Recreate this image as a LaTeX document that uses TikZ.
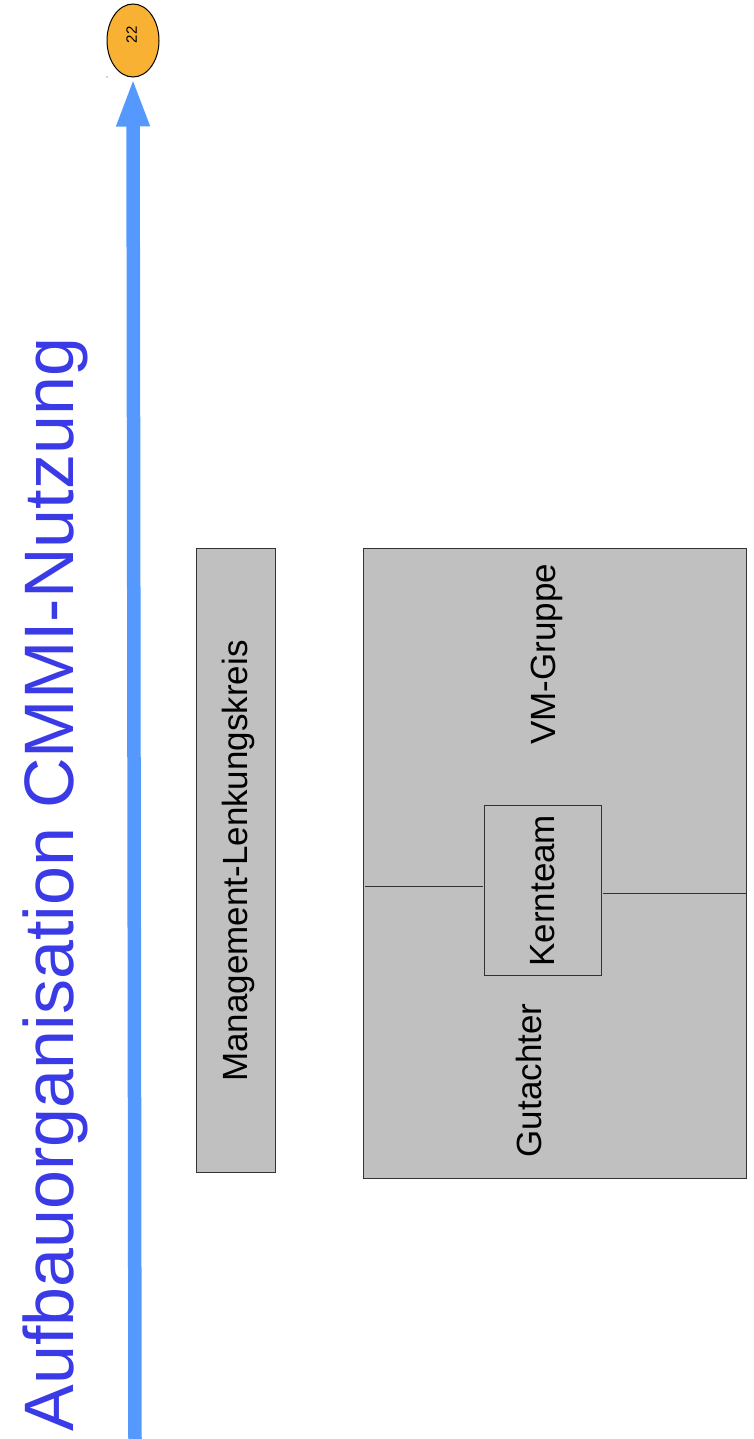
\documentclass[tikz,border=0pt]{standalone}
\usepackage{fontspec}
\setmainfont{Liberation Sans}
\usetikzlibrary{arrows.meta,shapes.geometric}
\definecolor{boxgray}{RGB}{192,192,192}
\definecolor{edgegray}{RGB}{51,51,51}
\definecolor{arrowblue}{RGB}{85,153,255}
\definecolor{titleblue}{RGB}{58,58,230}
\definecolor{badgeorange}{RGB}{248,177,51}
\begin{document}
\begin{tikzpicture}[x=0.5pt,y=-0.5pt,
  panel/.style={draw=edgegray, line width=0.5pt, fill=boxgray, inner sep=0pt, anchor=north west},
  vlabel/.style={rotate=90, anchor=base, inner sep=0pt, font=\fontsize{17.5}{21}\selectfont},
  divider/.style={draw=edgegray, line width=0.5pt}
]
\useasboundingbox (0,0) rectangle (754,1439);

% title
\node[rotate=90, anchor=base, inner sep=0pt, text=titleblue, font=\fontsize{35}{42}\selectfont] (title) at (73,884.5) {Aufbauorganisation CMMI-Nutzung};

% badge
\node[ellipse, draw=black, line width=0.5pt, fill=badgeorange, minimum width=26pt, minimum height=36.5pt, inner sep=0pt] (badge) at (133,40.5) {};
\node[rotate=90, inner sep=0pt, font=\fontsize{7.5}{9}\selectfont] (badgelabel) at (131.7,35) {22};
\fill[gray!70] (107,77) circle (0.8);

% arrow
\coordinate (arrowstart) at (135,1439);
\draw[arrowblue, line width=6.75pt, -{Triangle[width=15pt,length=24.5pt]}] (arrowstart) -- (badge.south);

% management box
\node[panel, minimum width=39.5pt, minimum height=312pt] (mgmt) at (196,548) {};
\node[vlabel] (mgmtlabel) at (247,861) {Management-Lenkungskreis};

% big box
\node[panel, minimum width=191.5pt, minimum height=315pt] (big) at (363,548) {};
\node[vlabel] (vmlabel) at (555,654.5) {VM-Gruppe};
\node[vlabel] (gutlabel) at (541,1080.5) {Gutachter};

% Kernteam
\node[draw=edgegray, line width=0.5pt, fill=boxgray, rotate=90, inner sep=0pt, minimum width=85pt, minimum height=58.15pt, font=\fontsize{17.5}{21}\selectfont] (kern) at (542.85,890.7) {Kernteam};

% divider lines
\coordinate (la) at (365,886);
\coordinate (lb) at (483,886);
\coordinate (ra) at (603,893);
\coordinate (rb) at (746,893);
\draw[divider] (la) -- (lb);
\draw[divider] (ra) -- (rb);
\end{tikzpicture}
\end{document}
